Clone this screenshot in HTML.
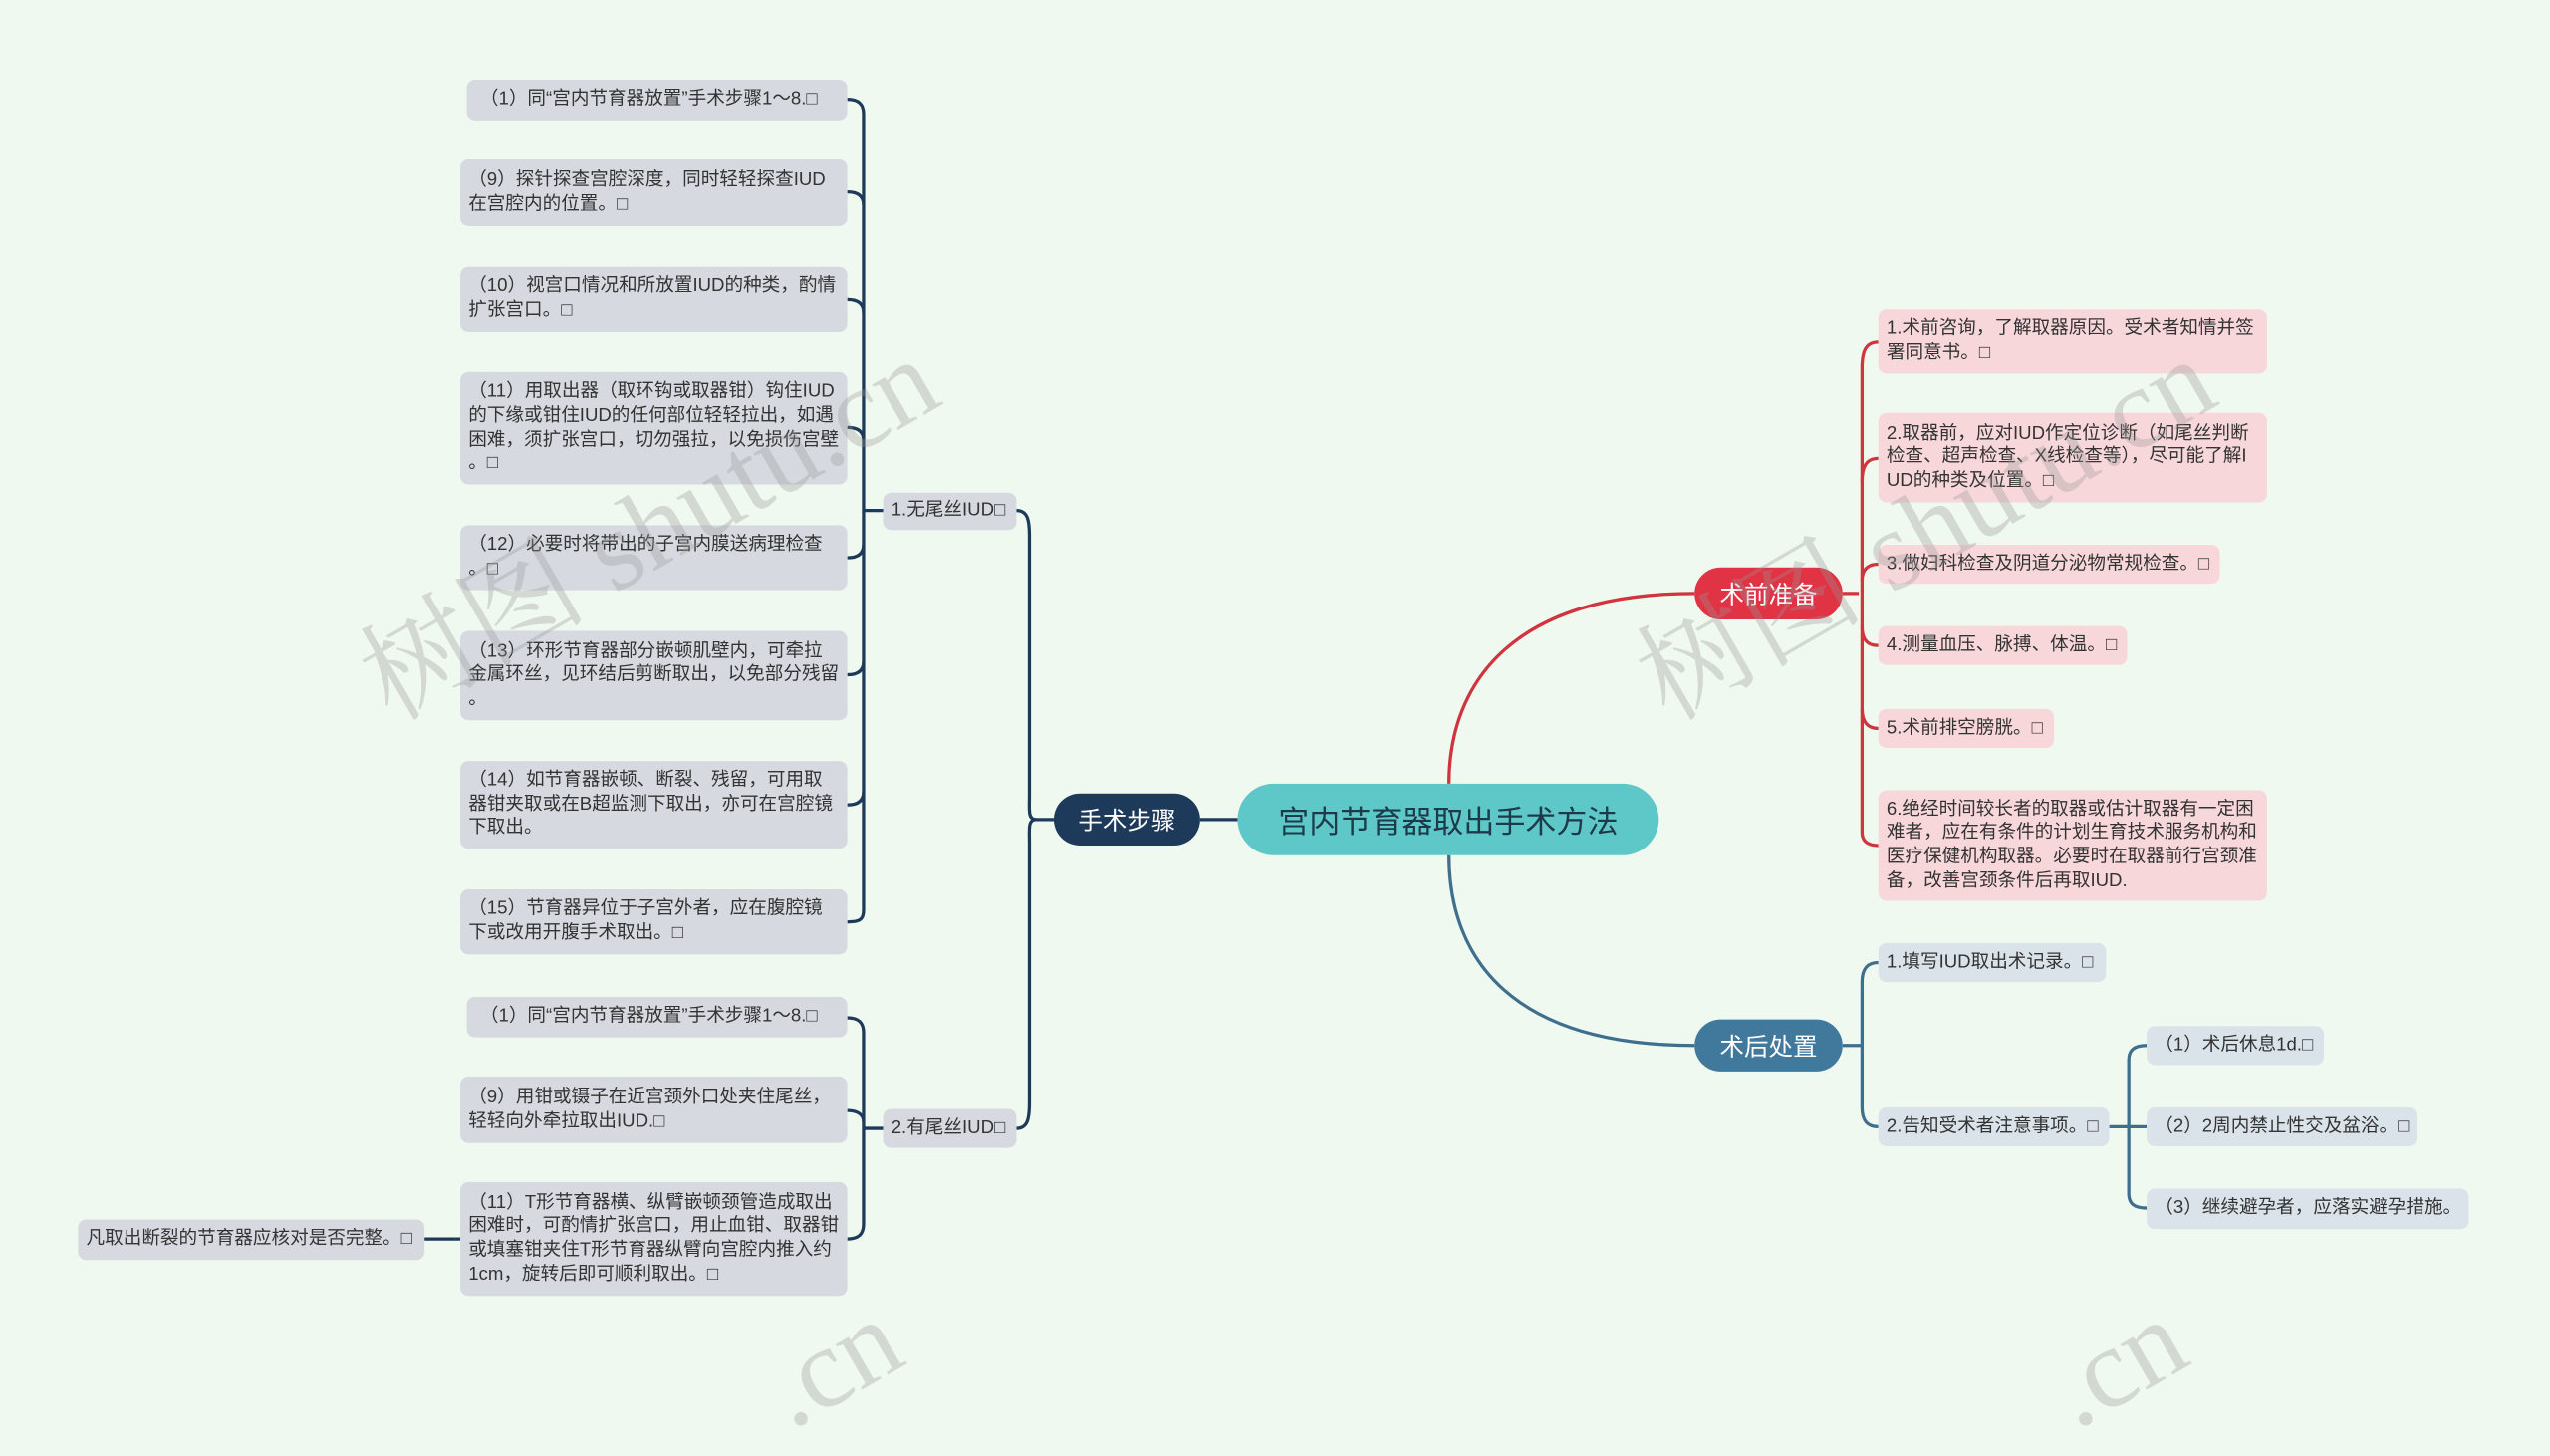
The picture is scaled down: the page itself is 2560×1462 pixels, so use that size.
<!DOCTYPE html>
<html><head><meta charset="utf-8"><style>
html,body{margin:0;padding:0;}
body{width:2560px;height:1382px;overflow:hidden;background:#f0f9ef;}
#c{position:absolute;left:0;top:0;width:1568px;height:846px;transform:scale(1.63265);transform-origin:0 0;font-family:"Liberation Sans","Noto Sans CJK SC",sans-serif;}
.b{position:absolute;box-sizing:border-box;border-radius:5px;font-size:11.4px;line-height:14.6px;color:#333;white-space:nowrap;padding:0 5px;display:flex;flex-direction:column;justify-content:center;}
.g{background:#d6dae0;}
.p{background:#f8d7db;}
.u{background:#dbe3ea;}
.m{position:absolute;box-sizing:border-box;display:flex;align-items:center;justify-content:center;color:#fff;font-size:15px;border-radius:16px;}
.wm{position:absolute;font-family:"Liberation Serif","Noto Serif CJK SC",serif;font-size:70px;color:rgba(150,150,150,0.32);transform:rotate(-30deg);white-space:nowrap;}
</style></head><body><div id="c">
<svg width="1568" height="846" style="position:absolute;left:0;top:0" fill="none" stroke-width="2">
<g stroke="#1e3a5a">
<path d="M738 504 H761"/>
<path d="M648 504 H637"/>
<path d="M637 504 C632 504 633 498 633 490 V330 C633 320 632 314 625 314"/>
<path d="M637 504 C632 504 633 510 633 518 V678 C633 688 632 694 625 694"/>
<path d="M543 314 H531"/>
<path d="M521 61 C528 61 531 64 531 70 V560 C531 566 528 567 521 567"/>
<path d="M521 118 C528 118 531 121 531 126"/>
<path d="M521 184 C528 184 531 187 531 192"/>
<path d="M521 263 C528 263 531 266 531 271"/>
<path d="M521 343 C528 343 531 340 531 335"/>
<path d="M521 415 C528 415 531 412 531 407"/>
<path d="M521 495 C528 495 531 492 531 487"/>
<path d="M543 694 H531"/>
<path d="M521 626 C528 626 531 629 531 635 V753 C531 759 528 762 521 762"/>
<path d="M521 683 C528 683 531 686 531 690"/>
<path d="M261 762 H283"/>
</g>
<g stroke="#d0343f">
<path d="M891 482 C891 420 930 365 1042 365"/>
<path d="M1133 365 H1143"/>
<path d="M1155 210 C1147 210 1145 216 1145 226 V512 C1145 516 1147 520 1155 520"/>
<path d="M1155 282 C1147 282 1145 288 1145 296"/>
<path d="M1155 347 C1147 347 1145 352 1145 357"/>
<path d="M1155 397 C1147 397 1145 392 1145 385"/>
<path d="M1155 448 C1147 448 1145 442 1145 436"/>
</g>
<g stroke="#3f6f8f">
<path d="M891 526 C891 590 930 643 1042 643"/>
<path d="M1133 643 H1145"/>
<path d="M1155 592 C1148 592 1145 596 1145 604 V681 C1145 689 1148 693 1155 693"/>
<path d="M1297 693 H1320"/>
<path d="M1320 643 C1312 643 1309 646 1309 652 V734 C1309 740 1312 743 1320 743"/>
</g>
</svg>

<div class="m" style="left:761px;top:482px;width:259px;height:44px;background:#5ec8c9;border-radius:22px;color:#1d3a4a;font-size:19px;">宫内节育器取出手术方法</div>
<div class="m" style="left:648px;top:488px;width:90px;height:32px;background:#1e3a5a;">手术步骤</div>
<div class="m" style="left:1042px;top:349px;width:91px;height:32px;background:#e03445;">术前准备</div>
<div class="m" style="left:1042px;top:627px;width:91px;height:32px;background:#41799d;">术后处置</div>

<div class="b g" style="left:543px;top:303px;width:82px;height:23px;">1.无尾丝IUD□</div>
<div class="b g" style="left:543px;top:682px;width:82px;height:24px;">2.有尾丝IUD□</div>

<div class="b g" style="left:287px;top:49px;width:234px;height:25px;">&nbsp;（1）同“宫内节育器放置”手术步骤1～8.□</div>
<div class="b g" style="left:283px;top:98px;width:238px;height:41px;"><div>（9）探针探查宫腔深度，同时轻轻探查IUD</div><div>在宫腔内的位置。□</div></div>
<div class="b g" style="left:283px;top:164px;width:238px;height:40px;"><div>（10）视宫口情况和所放置IUD的种类，酌情</div><div>扩张宫口。□</div></div>
<div class="b g" style="left:283px;top:229px;width:238px;height:69px;"><div>（11）用取出器（取环钩或取器钳）钩住IUD</div><div>的下缘或钳住IUD的任何部位轻轻拉出，如遇</div><div>困难，须扩张宫口，切勿强拉，以免损伤宫壁</div><div>。□</div></div>
<div class="b g" style="left:283px;top:323px;width:238px;height:40px;"><div>（12）必要时将带出的子宫内膜送病理检查</div><div>。□</div></div>
<div class="b g" style="left:283px;top:388px;width:238px;height:55px;"><div>（13）环形节育器部分嵌顿肌壁内，可牵拉</div><div>金属环丝，见环结后剪断取出，以免部分残留</div><div>。</div></div>
<div class="b g" style="left:283px;top:468px;width:238px;height:54px;"><div>（14）如节育器嵌顿、断裂、残留，可用取</div><div>器钳夹取或在B超监测下取出，亦可在宫腔镜</div><div>下取出。</div></div>
<div class="b g" style="left:283px;top:547px;width:238px;height:40px;"><div>（15）节育器异位于子宫外者，应在腹腔镜</div><div>下或改用开腹手术取出。□</div></div>

<div class="b g" style="left:287px;top:613px;width:234px;height:25px;">&nbsp;（1）同“宫内节育器放置”手术步骤1～8.□</div>
<div class="b g" style="left:283px;top:662px;width:238px;height:41px;"><div>（9）用钳或镊子在近宫颈外口处夹住尾丝，</div><div>轻轻向外牵拉取出IUD.□</div></div>
<div class="b g" style="left:283px;top:727px;width:238px;height:70px;"><div>（11）T形节育器横、纵臂嵌顿颈管造成取出</div><div>困难时，可酌情扩张宫口，用止血钳、取器钳</div><div>或填塞钳夹住T形节育器纵臂向宫腔内推入约</div><div>1cm，旋转后即可顺利取出。□</div></div>
<div class="b g" style="left:48px;top:750px;width:213px;height:25px;">凡取出断裂的节育器应核对是否完整。□</div>

<div class="b p" style="left:1155px;top:190px;width:239px;height:40px;"><div>1.术前咨询，了解取器原因。受术者知情并签</div><div>署同意书。□</div></div>
<div class="b p" style="left:1155px;top:254px;width:239px;height:55px;"><div>2.取器前，应对IUD作定位诊断（如尾丝判断</div><div>检查、超声检查、X线检查等），尽可能了解I</div><div>UD的种类及位置。□</div></div>
<div class="b p" style="left:1155px;top:335px;width:210px;height:24px;">3.做妇科检查及阴道分泌物常规检查。□</div>
<div class="b p" style="left:1155px;top:385px;width:153px;height:24px;">4.测量血压、脉搏、体温。□</div>
<div class="b p" style="left:1155px;top:436px;width:108px;height:24px;">5.术前排空膀胱。□</div>
<div class="b p" style="left:1155px;top:486px;width:239px;height:68px;"><div>6.绝经时间较长者的取器或估计取器有一定困</div><div>难者，应在有条件的计划生育技术服务机构和</div><div>医疗保健机构取器。必要时在取器前行宫颈准</div><div>备，改善宫颈条件后再取IUD.</div></div>

<div class="b u" style="left:1155px;top:580px;width:140px;height:24px;">1.填写IUD取出术记录。□</div>
<div class="b u" style="left:1155px;top:681px;width:142px;height:24px;">2.告知受术者注意事项。□</div>
<div class="b u" style="left:1320px;top:631px;width:109px;height:24px;">（1）术后休息1d.□</div>
<div class="b u" style="left:1320px;top:681px;width:166px;height:24px;">（2）2周内禁止性交及盆浴。□</div>
<div class="b u" style="left:1320px;top:731px;width:198px;height:25px;">（3）继续避孕者，应落实避孕措施。</div>

<div class="wm" style="left:200px;top:270px;">树图 shutu.cn</div>
<div class="wm" style="left:985px;top:270px;">树图 shutu.cn</div>
<div class="wm" style="left:470px;top:800px;">.cn</div>
<div class="wm" style="left:1260px;top:800px;">.cn</div>
</div></body></html>
